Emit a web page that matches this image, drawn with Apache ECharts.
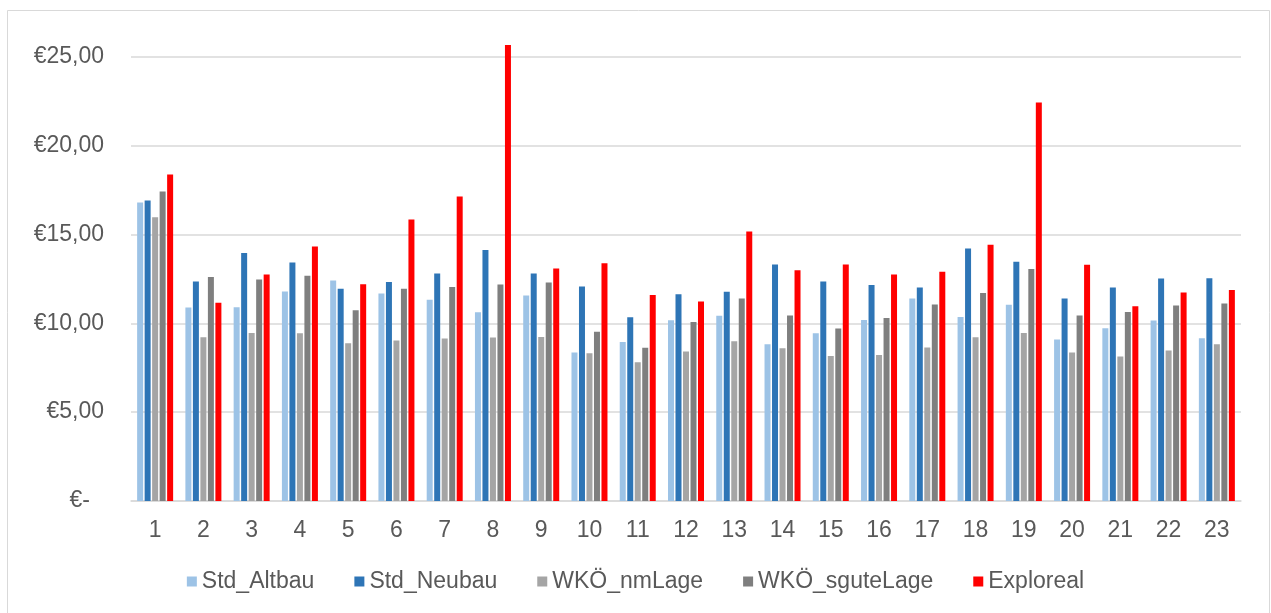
<!DOCTYPE html>
<html>
<head>
<meta charset="utf-8">
<script src="https://cdn.jsdelivr.net/npm/echarts@6/dist/echarts.min.js"></script>
<style>
html,body{margin:0;padding:0;background:#fff;}
#chart{width:1271px;height:613px;}
</style>
</head>
<body>
<div id="chart"></div>
<script>
const categories = ['1','2','3','4','5','6','7','8','9','10','11','12','13','14','15','16','17','18','19','20','21','22','23'];
const seriesNames = ['Std_Altbau','Std_Neubau','WKÖ_nmLage','WKÖ_sguteLage','Exploreal'];
const stdAltbau = [16.80,10.89,10.91,11.79,12.41,11.68,11.32,10.62,11.56,8.36,8.95,10.17,10.42,8.82,9.44,10.19,11.40,10.36,11.04,9.09,9.72,10.16,9.16];
const stdNeubau = [16.91,12.35,13.95,13.42,11.94,12.33,12.80,14.12,12.80,12.07,10.34,11.64,11.77,13.31,12.35,12.16,12.02,14.21,13.46,11.40,12.02,12.52,12.54];
const wkoNmLage = [15.97,9.22,9.46,9.44,8.88,9.03,9.14,9.20,9.23,8.32,7.81,8.41,8.99,8.60,8.16,8.22,8.64,9.22,9.46,8.36,8.13,8.47,8.82];
const wkoSguteLage = [17.42,12.60,12.47,12.67,10.74,11.94,12.05,12.18,12.30,9.52,8.62,10.08,11.40,10.44,9.71,10.30,11.06,11.71,13.05,10.44,10.64,11.00,11.12];
const exploreal = [18.38,11.15,12.75,14.32,12.20,15.84,17.14,25.66,13.08,13.38,11.60,11.23,15.17,12.99,13.31,12.75,12.90,14.42,22.43,13.29,10.96,11.73,11.88];
const yTicks = [0,5,10,15,20,25];

const colors = ['#9DC3E6','#2E75B6','#A5A5A5','#7F7F7F','#FF0000'];
const values = [stdAltbau, stdNeubau, wkoNmLage, wkoSguteLage, exploreal];
const FONT = 'Liberation Sans, Arial, sans-serif';

const chart = echarts.init(document.getElementById('chart'), null, {renderer:'canvas'});
chart.setOption({
  animation:false,
  backgroundColor:'#fff',
  textStyle:{fontFamily:FONT},
  graphic:[{type:'rect', shape:{x:7.5,y:10.5,width:1262,height:612}, style:{fill:'none', stroke:'#d9d9d9', lineWidth:1}, silent:true}],
  grid:{left:131, right:30, top:39, bottom:112, containLabel:false},
  legend:{
    data:seriesNames, bottom:15, left:'center', icon:'rect', itemWidth:10, itemHeight:10, itemGap:40,
    textStyle:{fontSize:23, color:'#595959', fontFamily:FONT}
  },
  xAxis:{
    type:'category', data:categories,
    axisLine:{lineStyle:{color:'#d9d9d9', width:1.5}},
    axisTick:{show:false},
    axisLabel:{fontSize:23, color:'#595959', margin:18, fontFamily:FONT}
  },
  yAxis:{
    type:'value', min:0, max:26, interval:5,
    axisLine:{show:false}, axisTick:{show:false},
    splitLine:{lineStyle:{color:'#d9d9d9', width:1.5}, showMaxLine:false},
    axisLabel:{
      fontSize:23, color:'#595959', margin:27, showMaxLabel:false, fontFamily:FONT,
      formatter:function(v){
        if(yTicks.indexOf(v)<0) return '';
        if(v===0) return '{z|€-}';
        return '€' + v.toFixed(2).replace('.',',');
      },
      rich:{z:{fontSize:23, color:'#595959', padding:[0,14,0,0], fontFamily:FONT}}
    }
  },
  series: seriesNames.map(function(n,i){
    return {name:n, type:'bar', data:values[i], barWidth:6, barGap:'25%',
      itemStyle:{color:colors[i]}};
  })
});
</script>
</body>
</html>
